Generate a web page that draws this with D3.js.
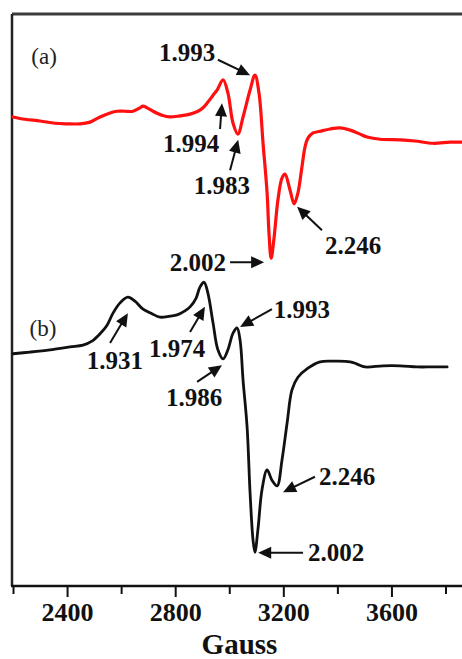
<!DOCTYPE html>
<html>
<head>
<meta charset="utf-8">
<script src="https://cdn.jsdelivr.net/npm/d3@7"></script>
<style>
  html, body { margin: 0; padding: 0; background: #fff; }
  svg { display: block; }
</style>
</head>
<body>
<svg id="chart" width="462" height="659"></svg>
<script>
// EPR spectra: magnetic field (Gauss) vs. derivative signal (arbitrary units, stacked)
const fieldA = [2200,2244,2300,2355,2400,2448,2485,2522,2559,2585,2614,2644,2670,2681,2696,2718,2751,2781,2818,2855,2884,2903,2921,2940,2955,2977,2995,3014,3032,3051,3077,3095,3110,3125,3140,3147,3155,3166,3180,3195,3206,3225,3240,3254,3269,3280,3291,3310,3336,3373,3410,3447,3484,3510,3558,3632,3687,3754,3817,3861];
const signalA = [82.0,81.6,81.3,80.9,80.8,80.8,81.1,82.0,82.7,83.0,83.0,83.0,83.6,83.9,83.6,83.0,82.3,82.0,82.2,82.5,83.0,83.6,84.6,85.8,86.7,88.5,86.2,80.9,79.0,82.0,86.7,89.3,86.2,77.4,68.7,61.7,57.3,61.0,67.5,71.3,72.0,69.2,66.8,68.7,73.3,76.7,78.3,79.2,79.5,79.9,80.1,79.7,79.0,78.5,78.1,78.0,77.8,77.4,77.6,77.6];

const fieldB = [2200,2263,2337,2411,2459,2492,2522,2548,2570,2596,2625,2651,2681,2714,2744,2781,2807,2836,2855,2877,2892,2907,2921,2940,2958,2977,2995,3014,3029,3040,3051,3066,3077,3088,3095,3107,3121,3140,3158,3177,3195,3214,3232,3254,3291,3336,3391,3447,3473,3502,3569,3632,3695,3750,3806];
const signalB = [40.6,40.9,41.3,41.8,42.1,42.8,44.1,45.6,47.7,49.5,50.5,49.8,48.4,47.6,47.0,47.2,47.4,48.1,48.8,50.3,52.3,53.1,51.2,46.0,41.3,39.7,41.3,44.2,45.1,43.0,36.0,27.8,16.3,8.0,5.9,10.3,16.8,20.3,18.5,17.5,22.0,28.5,34.3,36.5,38.1,39.2,39.3,39.2,38.8,38.3,38.5,38.5,38.3,38.3,38.3];

// g-value annotations: label, label position, arrow tail, arrow tip (Gauss, signal)
const gLabels   = ["1.993","1.994","1.983","2.246","2.002","1.931","1.974","1.986","1.993","2.246","2.002"];
const labelG    = [2844,2859,2973,3458,2884,2577,2807,2870,3269,3436,3395];
const labelI    = [93.2,77.4,70.1,59.6,56.6,39.5,41.6,32.9,48.4,19.1,5.8];
const tailG     = [2958,2966,3003,3343,3003,2559,2855,2881,3158,3317,3273];
const tailI     = [92.0,79.9,72.7,62.2,56.6,42.5,44.4,35.7,48.4,19.1,5.8];
const tipG      = [3077,2973,3033,3251,3129,2625,2910,2973,3040,3199,3107];
const tipI      = [89.3,84.4,78.0,66.3,56.6,47.7,48.8,38.6,45.3,16.4,5.8];

const panelLabels = ["(a)","(b)"];
const panelG = [2315,2311];
const panelI = [92.6,45.1];

const majorTicks = [2400,2800,3200,3600];
const minorTicks = [2200,2600,3000,3400,3800];
const xTitle = "Gauss";

const svg = d3.select("#chart");
const plotLeft = 13, plotRight = 462, plotTop = 14, plotBottom = 586;

const x = d3.scaleLinear().domain([2200, 3861]).range([plotLeft, plotRight]);
const y = d3.scaleLinear().domain([0, 100]).range([plotBottom, plotTop]);

const serif = "'Liberation Serif','Times New Roman',serif";

// frame: top and left border
svg.append("line").attr("x1", plotLeft - 1).attr("x2", plotRight).attr("y1", plotTop).attr("y2", plotTop)
  .attr("stroke", "#3c3c3c").attr("stroke-width", 3);
svg.append("line").attr("x1", plotLeft - 1).attr("x2", plotLeft - 1).attr("y1", plotTop).attr("y2", plotBottom)
  .attr("stroke", "#222").attr("stroke-width", 2.5);

// x axis: minor ticks, then major ticks with labels
const minorAxis = d3.axisBottom(x).tickValues(minorTicks).tickSize(8).tickFormat("");
const gMinor = svg.append("g").attr("transform", `translate(0,${plotBottom})`).call(minorAxis);
gMinor.select(".domain").remove();
gMinor.selectAll(".tick line").attr("stroke", "#111").attr("stroke-width", 2);

const majorAxis = d3.axisBottom(x).tickValues(majorTicks).tickSize(11).tickPadding(6).tickFormat(d3.format("d"));
const gMajor = svg.append("g").attr("transform", `translate(0,${plotBottom})`).call(majorAxis);
gMajor.select(".domain").attr("d", `M${plotLeft - 2},0H${plotRight}`).attr("stroke", "#111").attr("stroke-width", 2.5);
gMajor.selectAll(".tick line").attr("stroke", "#111").attr("stroke-width", 2);
gMajor.selectAll(".tick text")
  .attr("font-family", serif).attr("font-weight", "bold").attr("font-size", 26)
  .attr("fill", "#111");

svg.append("text")
  .attr("x", (plotLeft + plotRight) / 2 + 2).attr("y", 654)
  .attr("text-anchor", "middle")
  .attr("font-family", serif).attr("font-weight", "bold").attr("font-size", 29)
  .attr("fill", "#111").text(xTitle);

// spectra
const line = d3.line().x(d => x(d[0])).y(d => y(d[1])).curve(d3.curveCatmullRom.alpha(0.5));
svg.append("path").datum(d3.zip(fieldA, signalA)).attr("d", line)
  .attr("fill", "none").attr("stroke", "#ff1010").attr("stroke-width", 3.2)
  .attr("stroke-linejoin", "round").attr("stroke-linecap", "round");
svg.append("path").datum(d3.zip(fieldB, signalB)).attr("d", line)
  .attr("fill", "none").attr("stroke", "#111").attr("stroke-width", 2.8)
  .attr("stroke-linejoin", "round").attr("stroke-linecap", "round");

// panel labels
svg.selectAll("text.panel").data(panelLabels).join("text")
  .attr("class", "panel")
  .attr("x", (d, i) => x(panelG[i])).attr("y", (d, i) => y(panelI[i]))
  .attr("text-anchor", "middle").attr("dominant-baseline", "central")
  .attr("font-family", serif).attr("font-size", 23).attr("fill", "#222")
  .text(d => d);

// annotation arrows
const head = 13, halfW = 6;
gLabels.forEach((lab, i) => {
  const x0 = x(tailG[i]), y0 = y(tailI[i]);
  const x1 = x(tipG[i]), y1 = y(tipI[i]);
  const dx = x1 - x0, dy = y1 - y0, len = Math.hypot(dx, dy);
  const ux = dx / len, uy = dy / len;
  const bx = x1 - ux * head, by = y1 - uy * head;
  svg.append("line").attr("x1", x0).attr("y1", y0).attr("x2", bx + ux * 2).attr("y2", by + uy * 2)
    .attr("stroke", "#111").attr("stroke-width", 2);
  svg.append("path")
    .attr("d", `M${x1},${y1}L${bx - uy * halfW},${by + ux * halfW}L${bx + uy * halfW},${by - ux * halfW}Z`)
    .attr("fill", "#111");
  svg.append("text")
    .attr("x", x(labelG[i])).attr("y", y(labelI[i]))
    .attr("text-anchor", "middle").attr("dominant-baseline", "central")
    .attr("font-family", serif).attr("font-weight", "bold").attr("font-size", 25)
    .attr("fill", "#111").text(lab);
});
</script>
</body>
</html>
